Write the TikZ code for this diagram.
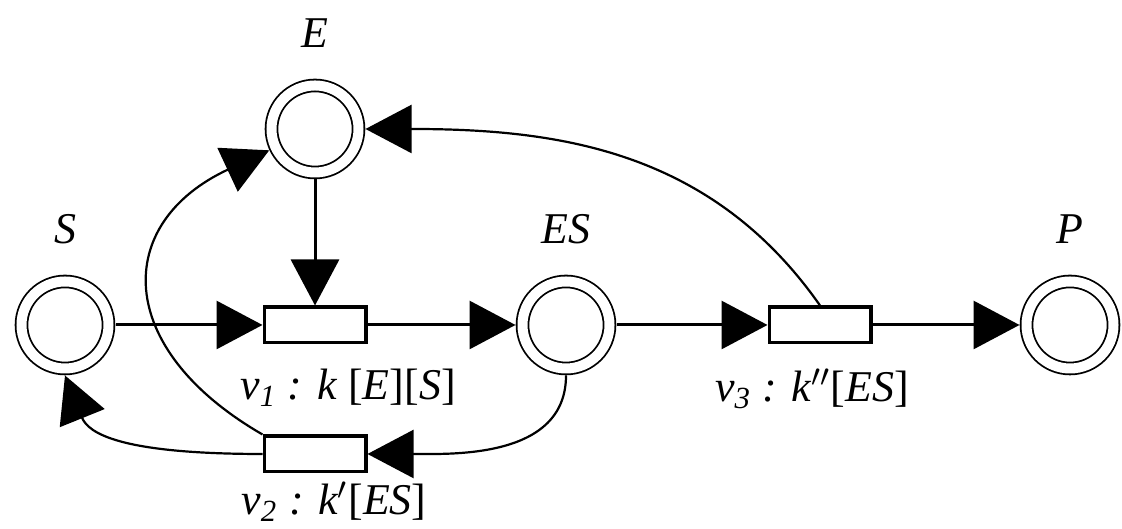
\documentclass[tikz,border=0pt]{standalone}
\usepackage{fontspec}
\setmainfont{Liberation Serif}
\usetikzlibrary{positioning,arrows.meta}

\begin{document}
\begin{tikzpicture}[x=0.1mm,y=0.1mm,
  place/.style={circle,draw,line width=0.018cm,double,double distance=0.1cm,minimum size=0.87cm,inner sep=0pt,outer sep=0.07cm},
  trans/.style={rectangle,draw,fill=white,line width=0.032cm,minimum width=1.018cm,minimum height=0.358cm,inner sep=0pt},
  lbl/.style={font=\fontsize{12.5}{15}\selectfont\itshape,inner sep=0pt},
  flow/.style={-{Triangle[length=4.6mm,width=4.8mm]},line width=0.03cm},
  curveflow/.style={flow,line width=0.022cm}]
\useasboundingbox (0,0) rectangle (1122,529);
% places
\node[place] (S) at (65,204) {};
\node[place] (E) at (315,400) {};
\node[place] (ES) at (566,204) {};
\node[place] (P) at (1070,204) {};
\foreach \p in {S,E,ES,P} {
  \node[lbl,above=0.3cm of \p] (t\p) {\p};
}
% transitions
\node[trans] (v1) at (315,204) {};
\node[trans] (v2) at (315,75) {};
\node[trans] (v3) at (820,204) {};
\node[lbl,anchor=base] (t1) at (348,129) {v\textsubscript{1} : k \textup{[}E\textup{][}S\textup{]}};
\node[lbl,anchor=base] (t2) at (334,14) {v\textsubscript{2} : k$'$\textup{[}ES\textup{]}};
\node[lbl,anchor=base] (t3) at (812,127) {v\textsubscript{3} : k$''$\textup{[}ES\textup{]}};

% straight arcs
\foreach \a/\b in {S/v1,E/v1,v1/ES,ES/v3,v3/P} {
  \draw[flow] (\a) -- (\b);
}
% curved arcs
\draw[curveflow] (v3.north) to[out=125,in=0] (E.east);
\draw[curveflow] (ES.south) to[out=-90,in=0] (v2.east);
\draw[curveflow] (v2.west) to[out=180,in=-68,out distance=1.43cm,in distance=0.62cm] (S.south);
\draw[curveflow] (v2.north west) to[out=150,in=205,looseness=1.55] (E.205);
\end{tikzpicture}
\end{document}
